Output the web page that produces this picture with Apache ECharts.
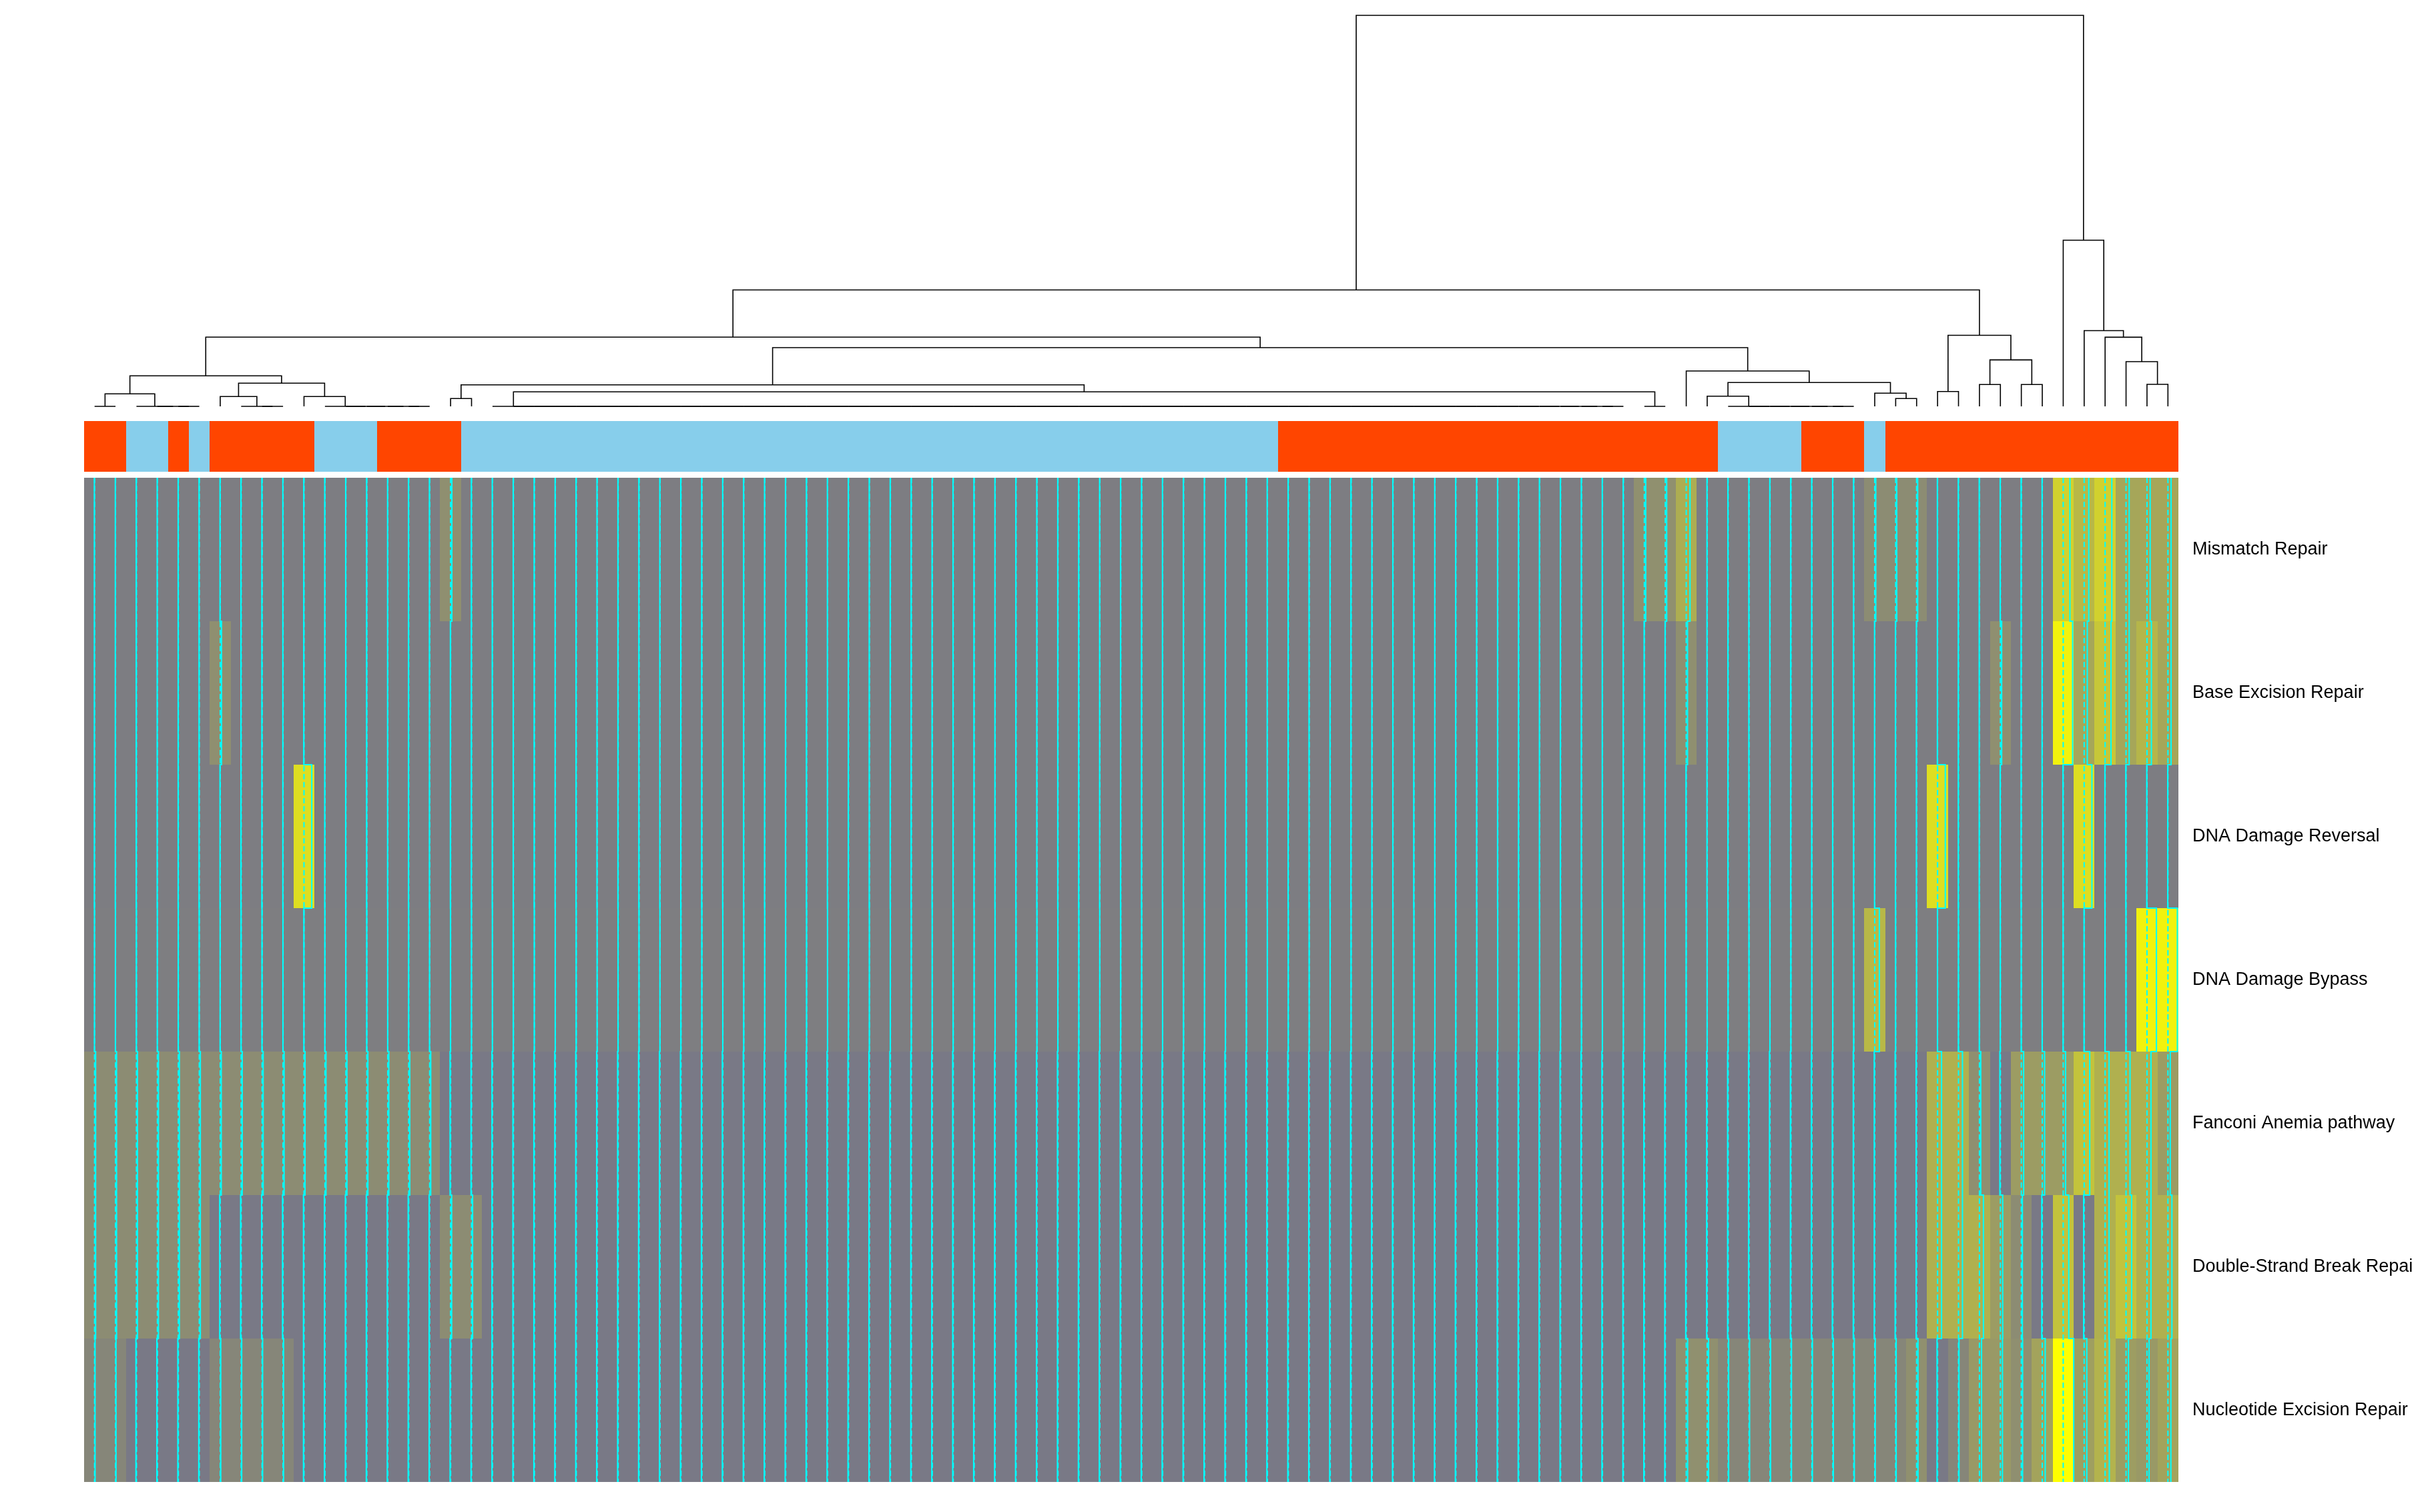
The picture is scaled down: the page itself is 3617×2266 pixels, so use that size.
<!DOCTYPE html>
<html><head><meta charset="utf-8">
<script src="https://cdn.jsdelivr.net/npm/echarts@6/dist/echarts.min.js"></script>
<style>html,body{margin:0;padding:0;background:#fff}#c{width:3617px;height:2266px}</style>
</head><body><div id="c"></div>
<script>
// ---------- DATA ----------
const rowNames = ['Mismatch Repair','Base Excision Repair','DNA Damage Reversal','DNA Damage Bypass',
  'Fanconi Anemia pathway','Double-Strand Break Repair','Nucleotide Excision Repair'];

// cell values (x100), columns in dendrogram order
const rowMismatch = [
-2,-2,-2,-2,-2,-2,-2,-2,-2,-2,
-2,-2,-2,-2,-2,-2,-2,12,-2,-2,
-2,-2,-2,-2,-2,-2,-2,-2,-2,-2,
-2,-2,-2,-2,-2,-2,-2,-2,-2,-2,
-2,-2,-2,-2,-2,-2,-2,-2,-2,-2,
-2,-2,-2,-2,-2,-2,-2,-2,-2,-2,
-2,-2,-2,-2,-2,-2,-2,-2,-2,-2,
-2,-2,-2,-2,13,13,36,-2,-2,-2,
-2,-2,-2,-2,-2,10,10,10,-2,-2,
-2,-2,-2,-2,64,44,64,30,30,30];
const rowBaseExcision = [
-2,-2,-2,-2,-2,-2,12,-2,-2,-2,
-2,-2,-2,-2,-2,-2,-2,-2,-2,-2,
-2,-2,-2,-2,-2,-2,-2,-2,-2,-2,
-2,-2,-2,-2,-2,-2,-2,-2,-2,-2,
-2,-2,-2,-2,-2,-2,-2,-2,-2,-2,
-2,-2,-2,-2,-2,-2,-2,-2,-2,-2,
-2,-2,-2,-2,-2,-2,-2,-2,-2,-2,
-2,-2,-2,-2,-2,-2,12,-2,-2,-2,
-2,-2,-2,-2,-2,-2,-2,-2,-2,-2,
-2,12,-2,-2,90,30,56,30,42,30];
const rowReversal = [
-2,-2,-2,-2,-2,-2,-2,-2,-2,-2,
74,-2,-2,-2,-2,-2,-2,-2,-2,-2,
-2,-2,-2,-2,-2,-2,-2,-2,-2,-2,
-2,-2,-2,-2,-2,-2,-2,-2,-2,-2,
-2,-2,-2,-2,-2,-2,-2,-2,-2,-2,
-2,-2,-2,-2,-2,-2,-2,-2,-2,-2,
-2,-2,-2,-2,-2,-2,-2,-2,-2,-2,
-2,-2,-2,-2,-2,-2,-2,-2,-2,-2,
-2,-2,-2,-2,-2,-2,-2,-2,74,-2,
-2,-2,-2,-2,-2,74,-2,-2,-2,-2];
const rowBypass = [
-1,-1,-1,-1,-1,-1,-1,-1,-1,-1,
-1,-1,-1,-1,-1,-1,-1,-1,-1,-1,
-1,-1,-1,-1,-1,-1,-1,-1,-1,-1,
-1,-1,-1,-1,-1,-1,-1,-1,-1,-1,
-1,-1,-1,-1,-1,-1,-1,-1,-1,-1,
-1,-1,-1,-1,-1,-1,-1,-1,-1,-1,
-1,-1,-1,-1,-1,-1,-1,-1,-1,-1,
-1,-1,-1,-1,-1,-1,-1,-1,-1,-1,
-1,-1,-1,-1,-1,44,-1,-1,-1,-1,
-1,-1,-1,-1,-1,-1,-1,-1,90,90];
const rowFanconi = [
10,10,10,10,10,10,10,10,10,10,
10,10,10,10,10,10,10,-5,-5,-5,
-5,-5,-5,-5,-5,-5,-5,-5,-5,-5,
-5,-5,-5,-5,-5,-5,-5,-5,-5,-5,
-5,-5,-5,-5,-5,-5,-5,-5,-5,-5,
-5,-5,-5,-5,-5,-5,-5,-5,-5,-5,
-5,-5,-5,-5,-5,-5,-5,-5,-5,-5,
-5,-5,-5,-5,-5,-5,-5,-5,-5,-5,
-5,-5,-5,-5,-5,-5,-5,-5,38,38,
12,-5,22,22,22,53,38,38,38,22];
const rowDoubleStrand = [
10,10,10,10,10,10,-5,-5,-5,-5,
-5,-5,-5,-5,-5,-5,-5,10,10,-5,
-5,-5,-5,-5,-5,-5,-5,-5,-5,-5,
-5,-5,-5,-5,-5,-5,-5,-5,-5,-5,
-5,-5,-5,-5,-5,-5,-5,-5,-5,-5,
-5,-5,-5,-5,-5,-5,-5,-5,-5,-5,
-5,-5,-5,-5,-5,-5,-5,-5,-5,-5,
-5,-5,-5,-5,-5,-5,-5,-5,-5,-5,
-5,-5,-5,-5,-5,-5,-5,-5,38,38,
38,22,10,-5,53,-5,38,53,38,38];
const rowNucleotide = [
5,5,-5,-5,-5,-5,5,5,5,5,
-5,-5,-5,-5,-5,-5,-5,-5,-5,-5,
-5,-5,-5,-5,-5,-5,-5,-5,-5,-5,
-5,-5,-5,-5,-5,-5,-5,-5,-5,-5,
-5,-5,-5,-5,-5,-5,-5,-5,-5,-5,
-5,-5,-5,-5,-5,-5,-5,-5,-5,-5,
-5,-5,-5,-5,-5,-5,-5,-5,-5,-5,
-5,-5,-5,-5,-5,-5,13,13,5,5,
5,5,5,5,5,5,5,13,-5,5,
20,20,12,28,100,25,40,23,20,28];
const heatRows = [rowMismatch,rowBaseExcision,rowReversal,rowBypass,rowFanconi,rowDoubleStrand,rowNucleotide];

// sample group per column (annotation bar)
const sampleGroup = ('RRBBRBRRRR'+'RBBBRRRRBB'+'BBBBBBBBBB'+'BBBBBBBBBB'+'BBBBBBBBBB'+
  'BBBBBBBRRR'+'RRRRRRRRRR'+'RRRRRRRRBB'+'BBRRRBRRRR'+'RRRRRRRRRR').split('');

// dendrogram: leaf runs merged at height 0, then merges [left, right, height]
// refs: number = leaf column, 'rK' = zero run K, 'mK' = merge K
const zeroRuns = [[0,1],[2,5],[7,9],[11,16],[19,73],[74,75],[78,84]];
const merges = [
  ['r0','r1',18.7],   // m0
  [6,'r2',14.7],      // m1
  [10,'r3',14.7],     // m2
  ['m1','m2',34.7],   // m3
  ['m0','m3',45.7],   // m4
  [17,18,11.7],       // m5
  ['r4','r5',21.7],   // m6
  ['m5','m6',32.3],   // m7
  [77,'r6',15.3],     // m8
  [86,87,11.7],       // m9
  [85,'m9',19.7],     // m10
  ['m8','m10',35.7],  // m11
  [76,'m11',53],      // m12
  ['m7','m12',88],    // m13
  ['m4','m13',103.7], // m14
  [88,89,22.3],       // m15
  [90,91,32.7],       // m16
  [92,93,32.7],       // m17
  ['m16','m17',69.6], // m18
  ['m15','m18',106.5],// m19
  ['m14','m19',174.5],// m20
  [98,99,33],         // m21
  [97,'m21',67],      // m22
  [96,'m22',103.6],   // m23
  [95,'m23',113.5],   // m24
  [94,'m24',249],     // m25
  ['m20','m25',586]   // m26 root
];
const dendroTop = 586;

// ---------- BUILD ----------
const groupColor = {R:'#FF4500', B:'#87CEEB'};
const dendroSegs = [];
const runInfo = zeroRuns.map(([a,b]) => {
  let x = b + 0.5;
  for (let k = b - 1; k >= a; k--) {
    const xl = k + 0.5;
    dendroSegs.push([xl, 0, x, 0, 0]);
    x = (xl + x) / 2;
  }
  return {x: x, h: 0};
});
const mergeInfo = [];
function resolve(ref) {
  if (typeof ref === 'number') return {x: ref + 0.5, h: 0};
  if (ref[0] === 'r') return runInfo[+ref.slice(1)];
  return mergeInfo[+ref.slice(1)];
}
merges.forEach(([a,b,h]) => {
  const L = resolve(a), R = resolve(b);
  dendroSegs.push([L.x, L.h, R.x, R.h, h]);
  mergeInfo.push({x: (L.x + R.x) / 2, h: h});
});

const nCols = heatRows[0].length;
const cellData = [];
heatRows.forEach((row, r) => row.forEach((v, c) => cellData.push([c, r, v])));
const traceData = [];
for (let c = 0; c < nCols; c++) traceData.push([c].concat(heatRows.map(row => row[c])));
const annoData = sampleGroup.map((g, c) => [c, 0.5]);

const chart = echarts.init(document.getElementById('c'), null, {renderer: 'canvas'});
const GL = 126, GW = 3138;
chart.setOption({
  animation: false,
  backgroundColor: '#ffffff',
  grid: [
    {left: GL, top: 716, width: GW, height: 1505, containLabel: false, outerBoundsMode: 'none'},
    {left: GL, top: 631, width: GW, height: 76, containLabel: false, outerBoundsMode: 'none'},
    {left: GL, top: 23, width: GW, height: 586, containLabel: false, outerBoundsMode: 'none'}
  ],
  xAxis: [0,1,2].map(i => ({type: 'value', gridIndex: i, min: 0, max: nCols, show: false})),
  yAxis: [
    {type: 'value', gridIndex: 0, min: 0, max: 7, inverse: true, show: false},
    {type: 'category', gridIndex: 0, position: 'right', inverse: true, data: rowNames,
     axisLine: {show: false}, axisTick: {show: false}, splitLine: {show: false},
     axisLabel: {interval: 0, margin: 21, fontSize: 27, color: '#000', hideOverlap: false,
                 fontFamily: '"Liberation Sans", Arial, sans-serif'}},
    {type: 'value', gridIndex: 1, min: 0, max: 1, show: false},
    {type: 'value', gridIndex: 2, min: 0, max: dendroTop, show: false}
  ],
  visualMap: {type: 'continuous', show: false, min: -100, max: 100, dimension: 2, seriesIndex: 0,
              inRange: {color: ['#0000FF', '#FFFF00']}},
  series: [
    {
      type: 'custom', xAxisIndex: 0, yAxisIndex: 0, z: 2, clip: false,
      data: cellData, encode: {x: 0, y: 1},
      renderItem: function (params, api) {
        const c = api.value(0), r = api.value(1);
        const p0 = api.coord([c, r]), p1 = api.coord([c + 1, r + 1]);
        const x0 = Math.round(Math.min(p0[0], p1[0])), x1 = Math.round(Math.max(p0[0], p1[0]));
        const y0 = Math.round(Math.min(p0[1], p1[1])), y1 = Math.round(Math.max(p0[1], p1[1]));
        return {type: 'rect', shape: {x: x0, y: y0, width: x1 - x0, height: y1 - y0},
                style: {fill: api.visual('color'), stroke: null}};
      }
    },
    {
      type: 'custom', xAxisIndex: 0, yAxisIndex: 0, z: 3, clip: false,
      data: traceData, encode: {x: 0},
      renderItem: function (params, api) {
        const c = api.value(0);
        const pts = [];
        for (let r = 0; r < 7; r++) {
          const t = (api.value(r + 1) + 100) / 200;
          pts.push(api.coord([c + t, r]));
          pts.push(api.coord([c + t, r + 1]));
        }
        const top = api.coord([c + 0.5, 0]), bot = api.coord([c + 0.5, 7]);
        return {type: 'group', children: [
          {type: 'line', shape: {x1: top[0], y1: top[1], x2: bot[0], y2: bot[1]},
           style: {stroke: '#00FFFF', lineWidth: 2, lineDash: [8, 4], fill: null}},
          {type: 'polyline', shape: {points: pts},
           style: {stroke: '#00FFFF', lineWidth: 2, fill: null}}
        ]};
      }
    },
    {
      type: 'custom', xAxisIndex: 1, yAxisIndex: 2, z: 2, clip: false,
      data: annoData, encode: {x: 0, y: 1},
      renderItem: function (params, api) {
        const c = api.value(0);
        const p0 = api.coord([c, 1]), p1 = api.coord([c + 1, 0]);
        const x0 = Math.round(p0[0]), x1 = Math.round(p1[0]);
        return {type: 'rect', shape: {x: x0, y: p0[1], width: x1 - x0, height: p1[1] - p0[1]},
                style: {fill: groupColor[sampleGroup[params.dataIndex]], stroke: null}};
      }
    },
    {
      type: 'custom', xAxisIndex: 2, yAxisIndex: 3, z: 2, clip: false,
      data: dendroSegs, encode: {x: [0, 2], y: [1, 3, 4]},
      renderItem: function (params, api) {
        const xl = api.value(0), hl = api.value(1), xr = api.value(2), hr = api.value(3), h = api.value(4);
        const pts = [api.coord([xl, hl]), api.coord([xl, h]), api.coord([xr, h]), api.coord([xr, hr])];
        return {type: 'polyline', shape: {points: pts},
                style: {stroke: '#000000', lineWidth: 1.6, fill: null}};
      }
    }
  ]
});
</script></body></html>
